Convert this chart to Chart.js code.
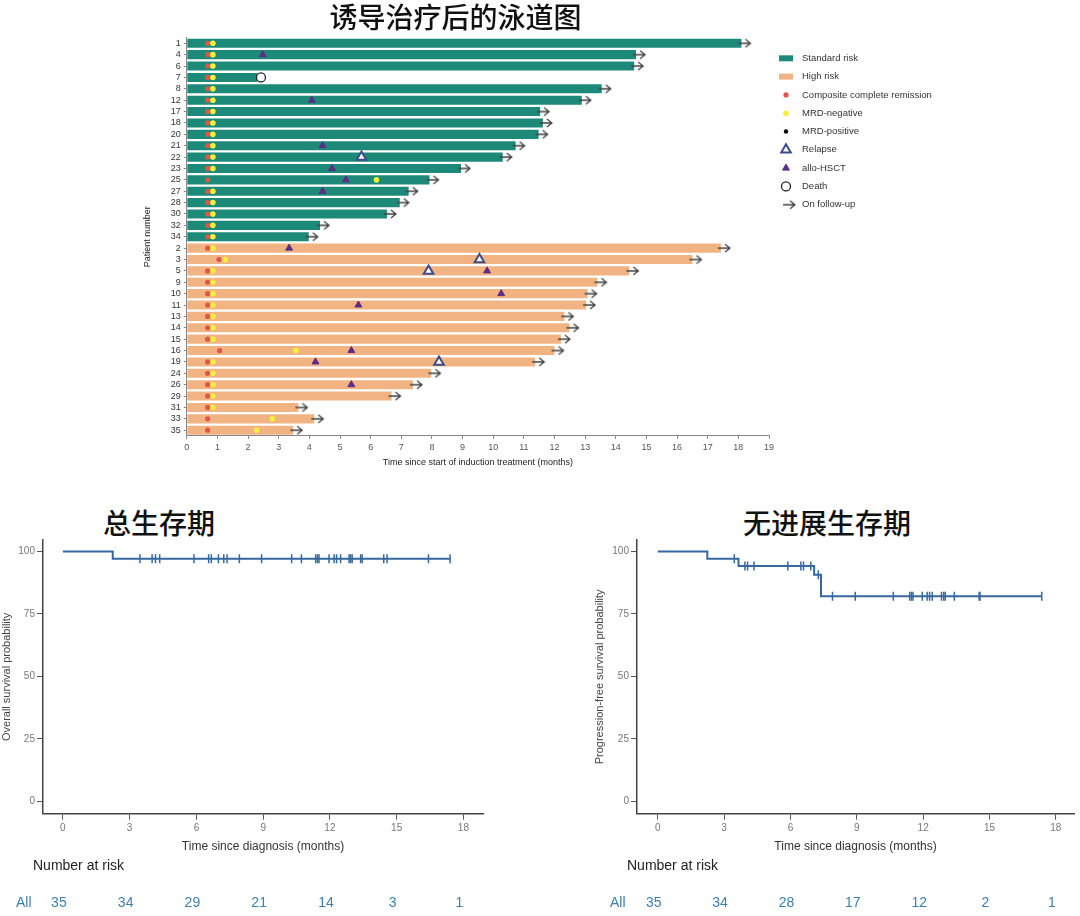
<!DOCTYPE html>
<html lang="zh">
<head>
    <meta charset="UTF-8">
    <title>诱导治疗后的泳道图</title>
    <style>
        * { box-sizing: border-box; }
        body { margin: 0; background: #fff; width: 1080px; height: 916px; position: relative; overflow: hidden; }
        canvas { position: absolute; }
        #swim { left: 0; top: 0; }
        #os { left: 0; top: 500px; }
        #pfs { left: 590px; top: 500px; }
        .km-title { position: absolute; top: 505px; font: 500 28px/34px "Noto Sans CJK SC", sans-serif; color: #111; }
    </style>
</head>
<body>
    <canvas id="swim" width="979" height="470"></canvas>
    <div class="km-title" style="left:103px">总生存期</div>
    <div class="km-title" style="left:743px">无进展生存期</div>
    <canvas id="os" width="490" height="416"></canvas>
    <canvas id="pfs" width="490" height="416"></canvas>

    <script src="https://cdn.jsdelivr.net/npm/chart.js@4.4.1/dist/chart.umd.min.js"></script>
    <script>
        // ---- swimmer plot data ----
        const standardIds = ["1", "4", "6", "7", "8", "12", "17", "18", "20", "21", "22", "23", "25", "27", "28", "30", "32", "34"];
        const standardEnd = [18.1, 14.66, 14.6, 2.3, 13.54, 12.89, 11.53, 11.62, 11.48, 10.73, 10.31, 8.95, 7.92, 7.24, 6.95, 6.53, 4.35, 3.98];
        const highIds = ["2", "3", "5", "9", "10", "11", "13", "14", "15", "16", "19", "24", "26", "29", "31", "33", "35"];
        const highEnd = [17.43, 16.5, 14.44, 13.4, 13.08, 13.03, 12.32, 12.49, 12.21, 12.0, 11.37, 7.98, 7.38, 6.68, 3.64, 4.16, 3.47];
        const patients = standardIds.concat(highIds);

        // composite complete remission / MRD-negative times, same order as patients
        const ccrTime = [0.68, 0.68, 0.68, 0.68, 0.68, 0.68, 0.68, 0.68, 0.68, 0.68, 0.68, 0.68, 0.68, 0.68, 0.68, 0.68, 0.68, 0.68,
                         0.68, 1.05, 0.68, 0.68, 0.68, 0.68, 0.68, 0.68, 0.68, 1.07, 0.68, 0.68, 0.68, 0.68, 0.68, 0.68, 0.68];
        const mrdNegTime = [0.85, 0.85, 0.85, 0.85, 0.85, 0.85, 0.85, 0.85, 0.85, 0.85, 0.85, 0.85, 6.19, 0.85, 0.85, 0.85, 0.85, 0.85,
                            0.85, 1.25, 0.85, 0.85, 0.85, 0.85, 0.85, 0.85, 0.85, 3.56, 0.85, 0.85, 0.85, 0.85, 0.85, 2.79, 2.28];
        const relapseIds = ["22", "3", "5", "19"];
        const relapseTime = [5.7, 9.55, 7.89, 8.23];
        const hsctIds = ["4", "12", "21", "23", "25", "27", "2", "5", "10", "11", "16", "19", "26"];
        const hsctTime = [2.48, 4.08, 4.43, 4.74, 5.19, 4.43, 3.34, 9.8, 10.26, 5.6, 5.37, 4.2, 5.37];
        const deathIds = ["7"];
        const deathTime = [2.42];

        // ---- KM data ----
        const kmTicks = [0, 3, 6, 9, 12, 15, 18];
        const probTicks = [0, 25, 50, 75, 100];
        const osTime = [0, 2.24, 17.4];
        const osSurv = [100, 97.1, 97.1];
        const osCensorTime = [3.46, 4.01, 4.16, 4.35, 5.89, 6.55, 6.67, 6.99, 7.23, 7.38, 7.93, 8.93, 10.28, 10.72, 11.36,
                              11.44, 11.51, 11.96, 12.19, 12.3, 12.48, 12.86, 12.93, 13.0, 13.38, 13.45, 14.42, 14.57, 16.43, 17.4];
        const osCensorSurv = [97.1, 97.1, 97.1, 97.1, 97.1, 97.1, 97.1, 97.1, 97.1, 97.1, 97.1, 97.1, 97.1, 97.1, 97.1,
                              97.1, 97.1, 97.1, 97.1, 97.1, 97.1, 97.1, 97.1, 97.1, 97.1, 97.1, 97.1, 97.1, 97.1, 97.1];
        const osRisk = [35, 34, 29, 21, 14, 3, 1];

        const pfsTime = [0, 2.24, 3.65, 7.07, 7.38, 17.36];
        const pfsSurv = [100, 97.1, 94.2, 90.7, 82.1, 82.1];
        const pfsCensorTime = [3.46, 3.94, 4.06, 4.35, 5.88, 6.47, 6.59, 6.92, 7.26, 7.9, 8.93, 10.65, 11.39, 11.47, 11.54,
                               11.96, 12.18, 12.29, 12.41, 12.83, 12.93, 13.0, 13.41, 14.53, 14.57, 17.36];
        const pfsCensorSurv = [97.1, 94.2, 94.2, 94.2, 94.2, 94.2, 94.2, 94.2, 90.7, 82.1, 82.1, 82.1, 82.1, 82.1, 82.1,
                               82.1, 82.1, 82.1, 82.1, 82.1, 82.1, 82.1, 82.1, 82.1, 82.1, 82.1];
        const pfsRisk = [35, 34, 28, 17, 12, 2, 1];

        Chart.defaults.font.family = "'Liberation Sans', Arial, sans-serif";

        const pairs = (ids, vals) => ids.map((id, i) => ({ x: vals[i], y: id }));

        // arrow image for "On follow-up" (starts at the point, points right)
        const arrow = document.createElement("canvas");
        arrow.width = 26;
        arrow.height = 12;
        const actx = arrow.getContext("2d");
        actx.strokeStyle = "#444";
        actx.lineWidth = 1.3;
        actx.beginPath();
        actx.moveTo(10, 6); actx.lineTo(22, 6);
        actx.moveTo(17, 2); actx.lineTo(22, 6); actx.lineTo(17, 10);
        actx.stroke();

        const followIds = patients.filter(id => !deathIds.includes(id));
        const endOf = id => standardIds.includes(id) ? standardEnd[standardIds.indexOf(id)] : highEnd[highIds.indexOf(id)];

        function markers(label, data, style, radius, fill, border, bw, order) {
            return {
                type: "line", label: label, data: data, showLine: false, order: order || 1,
                pointStyle: style, pointRadius: radius, pointHoverRadius: radius,
                pointBackgroundColor: fill, pointBorderColor: border, pointBorderWidth: bw,
            };
        }

        // legend drawn beside the chart area
        const swimLegend = {
            id: "swimLegend",
            afterDraw(chart) {
                const { ctx, chartArea } = chart;
                const mx = chartArea.right + 17, tx = chartArea.right + 33;
                ctx.save();
                ctx.font = "9.5px 'Liberation Sans', Arial, sans-serif";
                ctx.textBaseline = "middle";
                chart.data.datasets.forEach((ds, i) => {
                    const y = chartArea.top + 20.7 + i * 18.3;
                    if (ds.type === "bar") {
                        ctx.fillStyle = ds.backgroundColor;
                        ctx.fillRect(mx - 7, y - 3, 14, 6);
                    } else {
                        ctx.fillStyle = ds.pointBackgroundColor;
                        ctx.strokeStyle = ds.pointBorderColor;
                        ctx.lineWidth = ds.pointBorderWidth;
                        Chart.helpers.drawPoint(ctx, { pointStyle: ds.pointStyle, radius: ds.pointRadius, rotation: 0, borderWidth: ds.pointBorderWidth }, mx, y);
                    }
                    ctx.fillStyle = "#333";
                    ctx.fillText(ds.label, tx, y);
                });
                ctx.restore();
            },
        };

        new Chart(document.getElementById("swim"), {
            type: "bar",
            data: {
                labels: patients,
                datasets: [
                    { type: "bar", label: "Standard risk", indexAxis: "y", grouped: false, order: 3, data: pairs(standardIds, standardEnd),
                      backgroundColor: "#1d8a79", barPercentage: 0.8, categoryPercentage: 1 },
                    { type: "bar", label: "High risk", indexAxis: "y", grouped: false, order: 3, data: pairs(highIds, highEnd),
                      backgroundColor: "#f2b383", barPercentage: 0.8, categoryPercentage: 1 },
                    markers("Composite complete remission", pairs(patients, ccrTime), "circle", 2.6, "#e0544a", "#e0544a", 0, 2),
                    markers("MRD-negative", pairs(patients, mrdNegTime), "circle", 2.8, "#f6f03c", "#f6f03c", 0),
                    markers("MRD-positive", [], "circle", 2.2, "#000", "#000", 0),
                    markers("Relapse", pairs(relapseIds, relapseTime), "triangle", 5.5, "#fff", "#3d4c8c", 2),
                    markers("allo-HSCT", pairs(hsctIds, hsctTime), "triangle", 4, "#5b2d84", "#5b2d84", 1),
                    markers("Death", pairs(deathIds, deathTime), "circle", 4.5, "#fff", "#222", 1.3),
                    markers("On follow-up", pairs(followIds, followIds.map(endOf)), arrow, 6, "#444", "#444", 0),
                ],
            },
            options: {
                responsive: false,
                animation: false,
                layout: { padding: { top: 1, left: 142, right: 210, bottom: 0 } },
                plugins: {
                    legend: { display: false },
                    tooltip: { enabled: false },
                    title: {
                        display: true, text: "诱导治疗后的泳道图", color: "#111",
                        font: { family: "'Noto Sans CJK SC', sans-serif", size: 28, weight: "500" },
                        padding: { top: 0, bottom: 3 },
                    },
                },
                scales: {
                    x: {
                        type: "linear", min: 0, max: 19, offset: false,
                        ticks: { stepSize: 1, color: "#555", font: { size: 9 }, padding: 3 },
                        grid: { drawOnChartArea: false, tickLength: 3, color: "#888", offset: false },
                        border: { color: "#888" },
                        title: { display: true, text: "Time since start of induction treatment (months)", color: "#222", font: { size: 9 }, padding: { top: 1, bottom: 2.5 } },
                    },
                    y: {
                        type: "category", offset: true,
                        ticks: { color: "#333", font: { size: 9 }, padding: 3, autoSkip: false },
                        grid: { drawOnChartArea: false, tickLength: 3, color: "#888", offset: false },
                        border: { color: "#888" },
                        title: { display: true, text: "Patient number", color: "#222", font: { size: 9 }, padding: { top: 0, bottom: 15 } },
                    },
                },
            },
            plugins: [swimLegend],
        });

        // ---- Kaplan-Meier charts ----
        const kmColor = "#3668a0";

        function riskTable(risk) {
            return {
                id: "riskTable",
                afterDraw(chart) {
                    const { ctx, chartArea } = chart;
                    const xs = chart.scales.x;
                    ctx.save();
                    ctx.textBaseline = "middle";
                    ctx.font = "14px 'Liberation Sans Narrow', 'Liberation Sans', Arial, sans-serif";
                    ctx.fillStyle = "#222";
                    ctx.textAlign = "left";
                    ctx.fillText("Number at risk", chartArea.left - 10, chartArea.bottom + 52);
                    ctx.fillStyle = "#3f80ab";
                    ctx.fillText("All", chartArea.left - 27, chartArea.bottom + 89);
                    ctx.textAlign = "center";
                    risk.forEach((n, i) => {
                        ctx.fillText(String(n), xs.getPixelForValue(kmTicks[i]) - 4, chartArea.bottom + 89);
                    });
                    ctx.restore();
                },
            };
        }

        function kmChart(id, times, surv, cTimes, cSurv, risk, yTitle, xMin, xMax, pad, yTitlePad) {
            return new Chart(document.getElementById(id), {
                type: "line",
                data: {
                    datasets: [
                        {
                            label: "All", data: times.map((t, i) => ({ x: t, y: surv[i] })),
                            stepped: true, borderColor: kmColor, borderWidth: 2, pointRadius: 0, fill: false,
                        },
                        {
                            label: "censor", data: cTimes.map((t, i) => ({ x: t, y: cSurv[i] })), showLine: false,
                            pointStyle: "line", pointRotation: 90, pointRadius: 4.5, pointBorderWidth: 1.5,
                            pointBorderColor: kmColor, pointBackgroundColor: kmColor,
                        },
                    ],
                },
                options: {
                    responsive: false,
                    animation: false,
                    layout: { padding: pad },
                    plugins: { legend: { display: false }, tooltip: { enabled: false } },
                    scales: {
                        x: {
                            type: "linear", min: xMin, max: xMax,
                            afterBuildTicks: s => { s.ticks = kmTicks.map(v => ({ value: v })); },
                            ticks: { color: "#777", font: { size: 10 }, padding: 2.3 },
                            grid: { drawOnChartArea: false, tickLength: 6, color: "#555" },
                            border: { color: "#444", width: 1.5 },
                            title: { display: true, text: "Time since diagnosis (months)", color: "#333", font: { size: 12 }, padding: { top: 3.3, bottom: 0 } },
                        },
                        y: {
                            type: "linear", min: -4.9, max: 104.6,
                            afterBuildTicks: s => { s.ticks = probTicks.map(v => ({ value: v })); },
                            ticks: { color: "#777", font: { size: 10 }, padding: 2 },
                            grid: { drawOnChartArea: false, tickLength: 6, color: "#555" },
                            border: { color: "#444", width: 1.5 },
                            title: { display: true, text: yTitle, color: "#444", font: { size: 11 }, padding: yTitlePad },
                        },
                    },
                },
                plugins: [riskTable(risk)],
            });
        }

        kmChart("os", osTime, osSurv, osCensorTime, osCensorSurv, osRisk, "Overall survival probability",
            -0.895, 18.88, { top: 40, left: 0, right: 7, bottom: 62 }, { top: 0.4, bottom: 2.7 });
        kmChart("pfs", pfsTime, pfsSurv, pfsCensorTime, pfsCensorSurv, pfsRisk, "Progression-free survival probability",
            -0.94, 18.82, { top: 40, left: 0, right: 3, bottom: 62 }, { top: 3.4, bottom: 3.7 });
    </script>
</body>
</html>
